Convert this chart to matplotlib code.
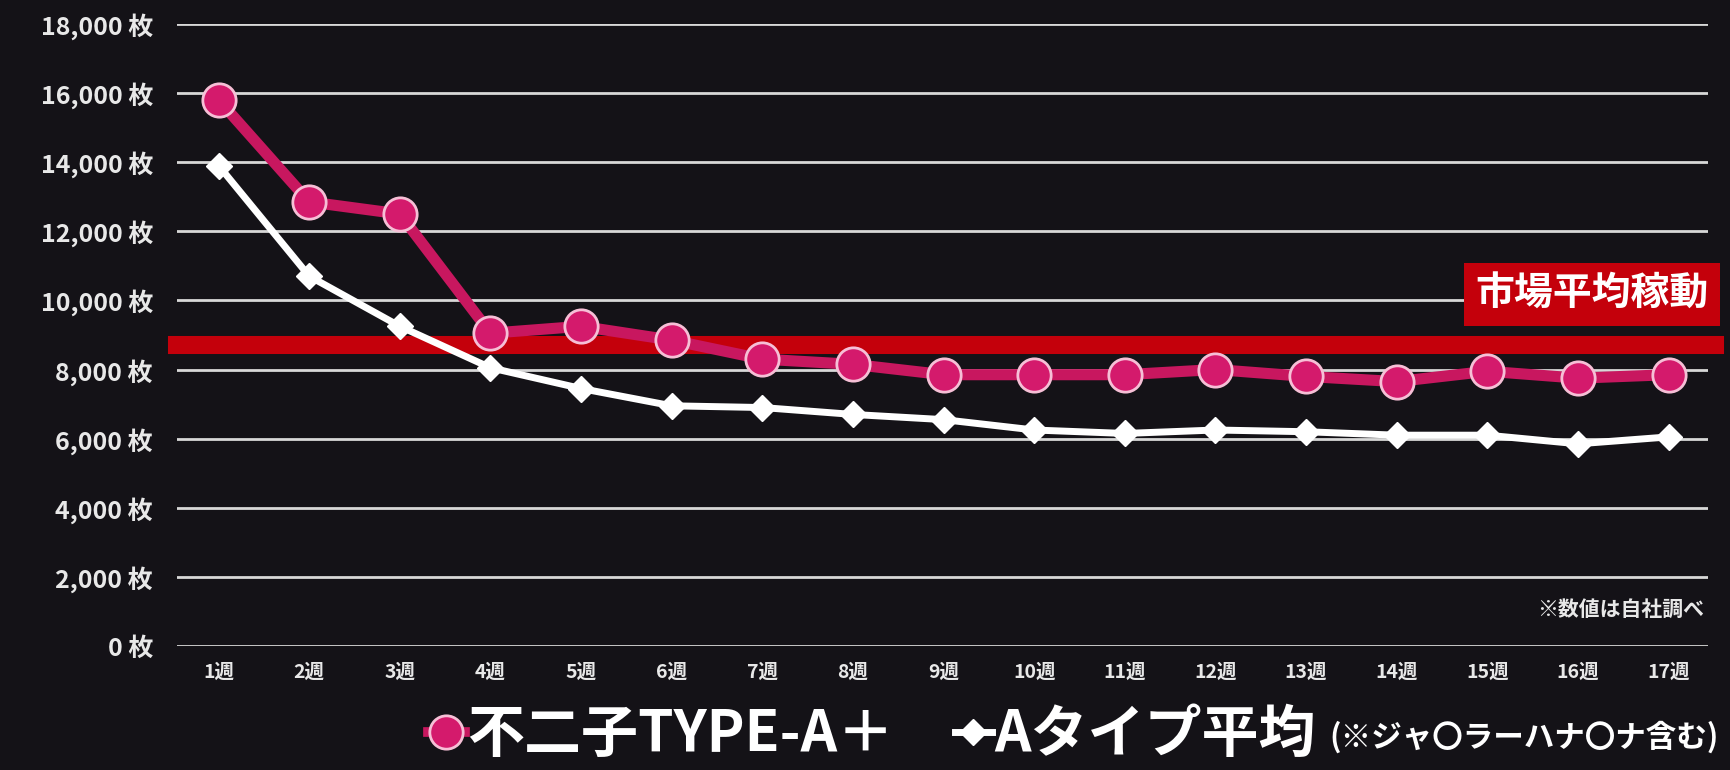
import matplotlib
matplotlib.use('Agg')
import matplotlib.pyplot as plt
from matplotlib.lines import Line2D

plt.rcParams['font.family'] = ['Noto Sans CJK JP', 'DejaVu Sans']

weeks = [f'{i}週' for i in range(1, 18)]
x = list(range(1, 18))
fujiko = [15800, 12850, 12500, 9050, 9250, 8850, 8300, 8150, 7850, 7850,
          7850, 8000, 7800, 7650, 7950, 7750, 7850]
a_type = [13900, 10700, 9250, 8050, 7450, 6950, 6900, 6700, 6550, 6250,
          6150, 6250, 6200, 6100, 6100, 5850, 6050]
market_avg = 8700
y_ticks = list(range(0, 18001, 2000))
y_labels = [f'{v:,} 枚' for v in y_ticks]

bg = '#141217'
pink = '#c8175f'
pink_face = '#d41a6c'
pink_edge = '#f6bfd6'
red = '#c4000b'

fig = plt.figure(figsize=(17.31, 7.7), dpi=100, facecolor=bg)
ax = fig.add_axes([0.102, 0.161, 0.885, 0.808])
ax.set_facecolor(bg)

for v in y_ticks:
    ax.axhline(v, color='#d8d8d8', lw=2, zorder=1)

ax.axhline(market_avg, xmin=0, xmax=1.004, color=red, lw=13, zorder=2, clip_on=False)

l1, = ax.plot(x, fujiko, color=pink, lw=8, marker='o', ms=24,
              markerfacecolor=pink_face, markeredgecolor=pink_edge, mew=2,
              zorder=4, clip_on=False)
l2, = ax.plot(x, a_type, color='white', lw=5, marker='D', ms=13,
              markerfacecolor='white', markeredgecolor='white',
              zorder=3, clip_on=False)

ax.set_xlim(0.536, 17.44)
ax.set_ylim(0, 18000)
ax.set_yticks(y_ticks)
ax.set_yticklabels(y_labels, fontsize=18, fontweight='bold', color='#e8e8e8')
ax.set_xticks(x)
ax.set_xticklabels(weeks, fontsize=14, fontweight='bold', color='#e8e8e8')
ax.tick_params(length=0, pad=17, axis='y')
ax.tick_params(length=0, pad=12, axis='x')
for s in ax.spines.values():
    s.set_visible(False)

ax.text(0.997, 0.059, '※数値は自社調べ', transform=ax.transAxes, ha='right',
        va='center', fontsize=15, fontweight='bold', color='#e8e8e8')

ax.text(1.0, 0.565, '市場平均稼動', transform=ax.transAxes, ha='right',
        va='center', fontsize=28, fontweight='bold', color='white',
        bbox=dict(boxstyle='square,pad=0.3', facecolor=red, edgecolor='none'))

h1 = Line2D([], [], color=pink, lw=7, marker='o', ms=24,
            markerfacecolor=pink_face, markeredgecolor=pink_edge, mew=2)
h2 = Line2D([], [], color='white', lw=5, marker='D', ms=13,
            markerfacecolor='white')
leg_props = dict(loc='center left', frameon=False, borderpad=0,
                 borderaxespad=0, handlelength=0.65, handletextpad=0.05,
                 prop={'size': 41, 'weight': 'bold'})
leg1 = fig.legend([h1], ['不二子TYPE-A＋'], bbox_to_anchor=(0.247, 0.045), **leg_props)
leg2 = fig.legend([h2], ['Aタイプ平均'], bbox_to_anchor=(0.5515, 0.045), **leg_props)
for leg in (leg1, leg2):
    for t in leg.get_texts():
        t.set_color('white')

fig.text(0.768, 0.042, '(※ジャ〇ラーハナ〇ナ含む)', ha='left', va='center',
         fontsize=22, fontweight='bold', color='white')

fig.savefig('out.png', dpi=100, facecolor=bg)
